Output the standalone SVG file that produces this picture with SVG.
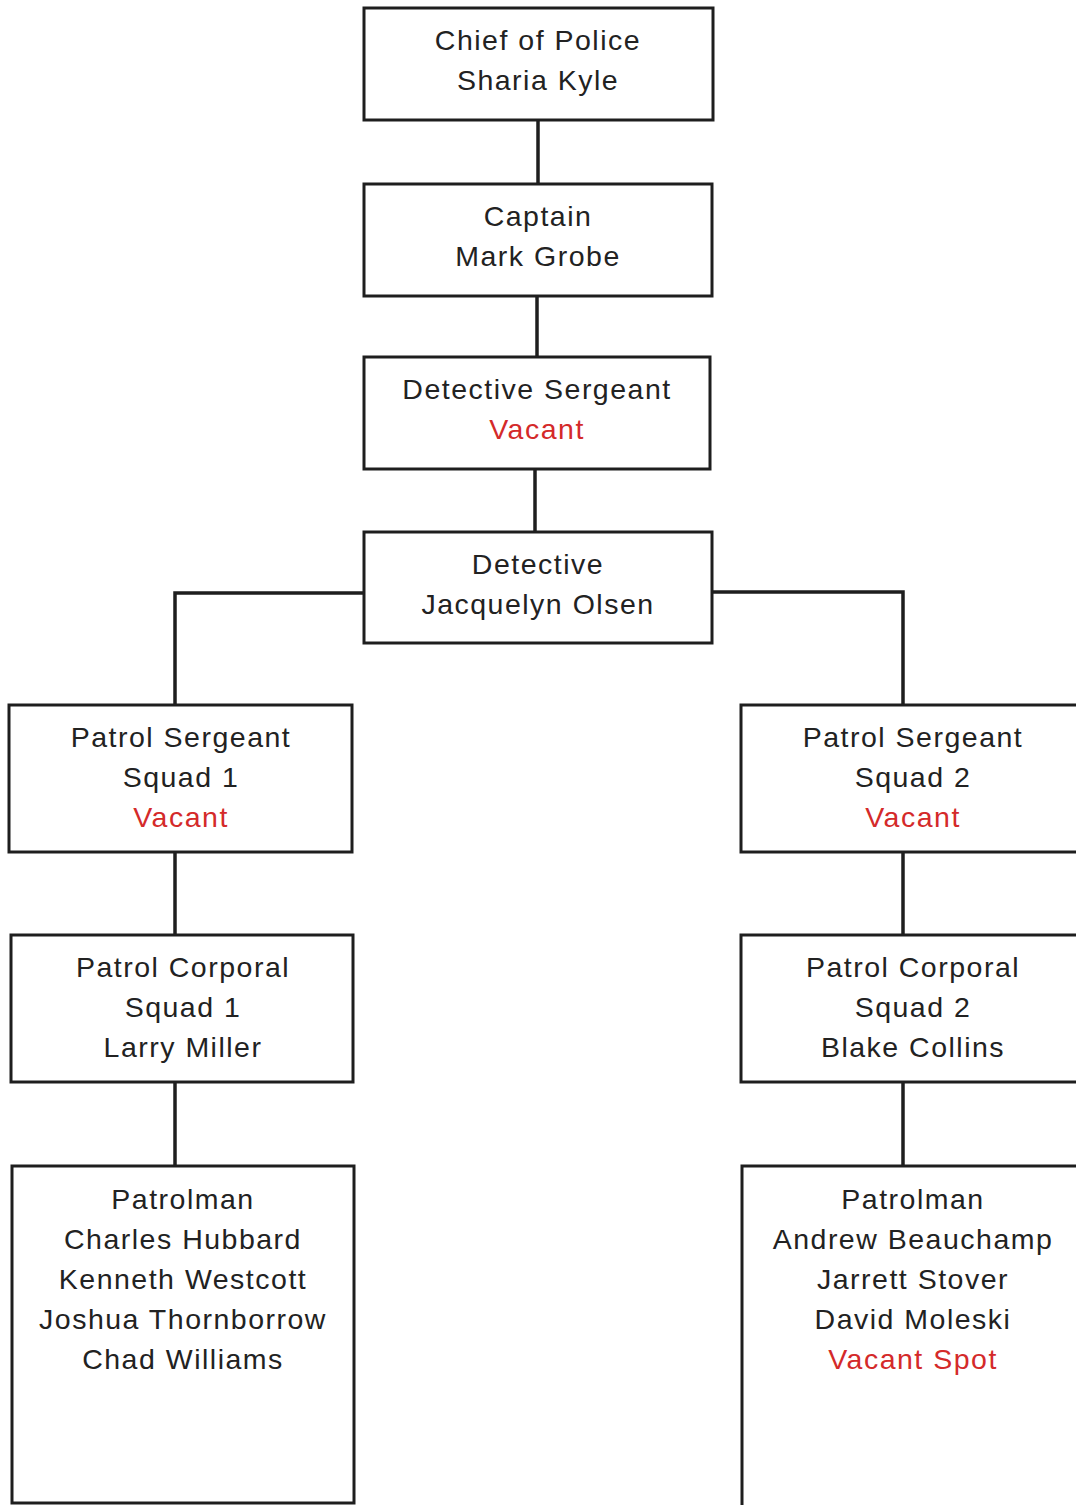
<svg xmlns="http://www.w3.org/2000/svg" width="1076" height="1505" viewBox="0 0 1076 1505">
<style>
.box{fill:#fff;stroke:#1e1e1e;stroke-width:3}
.t{font-family:"Liberation Sans",Arial,sans-serif;font-size:28.5px;fill:#222;text-anchor:middle;letter-spacing:1.5px}
.r{fill:#d42a2a}
.c{stroke:#1e1e1e;stroke-width:3.5;fill:none}
</style>
<rect width="1076" height="1505" fill="#fff"/>
<g id="connectors">
<line class="c" x1="538" y1="120" x2="538" y2="184"/>
<line class="c" x1="537" y1="296" x2="537" y2="357"/>
<line class="c" x1="535" y1="469" x2="535" y2="532"/>
<polyline class="c" points="364,593 175,593 175,705"/>
<polyline class="c" points="712,592 903,592 903,705"/>
<line class="c" x1="175" y1="852" x2="175" y2="935"/>
<line class="c" x1="903" y1="852" x2="903" y2="935"/>
<line class="c" x1="175" y1="1082" x2="175" y2="1166"/>
<line class="c" x1="903" y1="1082" x2="903" y2="1166"/>
</g>
<g id="chief">
<rect class="box" x="364" y="8" width="349" height="112"/>
<text class="t" x="538" y="50">Chief of Police</text>
<text class="t" x="538" y="90">Sharia Kyle</text>
</g>
<g id="captain">
<rect class="box" x="364" y="184" width="348" height="112"/>
<text class="t" x="538" y="226">Captain</text>
<text class="t" x="538" y="266">Mark Grobe</text>
</g>
<g id="det-sgt">
<rect class="box" x="364" y="357" width="346" height="112"/>
<text class="t" x="537" y="399">Detective Sergeant</text>
<text class="t r" x="537" y="439">Vacant</text>
</g>
<g id="detective">
<rect class="box" x="364" y="532" width="348" height="111"/>
<text class="t" x="538" y="574">Detective</text>
<text class="t" x="538" y="614">Jacquelyn Olsen</text>
</g>
<g id="psgt1">
<rect class="box" x="9" y="705" width="343" height="147"/>
<text class="t" x="181" y="747">Patrol Sergeant</text>
<text class="t" x="181" y="787">Squad 1</text>
<text class="t r" x="181" y="827">Vacant</text>
</g>
<g id="psgt2">
<rect class="box" x="741" y="705" width="345" height="147"/>
<text class="t" x="913" y="747">Patrol Sergeant</text>
<text class="t" x="913" y="787">Squad 2</text>
<text class="t r" x="913" y="827">Vacant</text>
</g>
<g id="pcpl1">
<rect class="box" x="11" y="935" width="342" height="147"/>
<text class="t" x="183" y="977">Patrol Corporal</text>
<text class="t" x="183" y="1017">Squad 1</text>
<text class="t" x="183" y="1057">Larry Miller</text>
</g>
<g id="pcpl2">
<rect class="box" x="741" y="935" width="345" height="147"/>
<text class="t" x="913" y="977">Patrol Corporal</text>
<text class="t" x="913" y="1017">Squad 2</text>
<text class="t" x="913" y="1057">Blake Collins</text>
</g>
<g id="patrol1">
<rect class="box" x="12" y="1166" width="342" height="337"/>
<text class="t" x="183" y="1209">Patrolman</text>
<text class="t" x="183" y="1249">Charles Hubbard</text>
<text class="t" x="183" y="1289">Kenneth Westcott</text>
<text class="t" x="183" y="1329">Joshua Thornborrow</text>
<text class="t" x="183" y="1369">Chad Williams</text>
</g>
<g id="patrol2">
<rect class="box" x="742" y="1166" width="344" height="350"/>
<text class="t" x="913" y="1209">Patrolman</text>
<text class="t" x="913" y="1249">Andrew Beauchamp</text>
<text class="t" x="913" y="1289">Jarrett Stover</text>
<text class="t" x="913" y="1329">David Moleski</text>
<text class="t r" x="913" y="1369">Vacant Spot</text>
</g>
</svg>
